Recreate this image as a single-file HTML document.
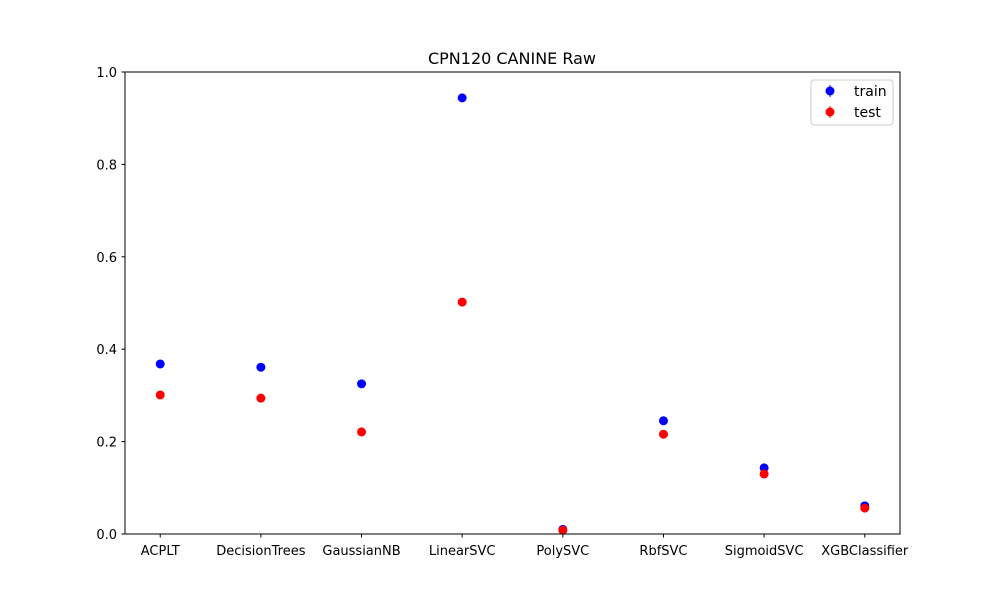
<!DOCTYPE html>
<html><head><meta charset="utf-8"><style>
body{margin:0;background:#fff;}
svg text{font-family:"DejaVu Sans","Liberation Sans",sans-serif;}
</style></head><body>
<svg id="chart" width="1000" height="600">
<rect width="1000" height="600" fill="#fff"/>
<text x="512" y="64" font-size="16" text-anchor="middle">CPN120 CANINE Raw</text>
<g id="axes"></g>
<g id="marks"></g>
<rect x="125" y="72" width="775" height="462" fill="none" stroke="#000" stroke-width="1"/>
<g>
<rect x="811" y="80" width="82" height="45" fill="#fff" stroke="#ccc" rx="3"/>
<g>
<line x1="830" y1="85" x2="830" y2="97" stroke="blue"/>
<circle cx="830" cy="91" r="4.5" fill="blue"/>
<text x="854" y="96" font-size="14">train</text></g>
<g>
<line x1="830" y1="106" x2="830" y2="118" stroke="red"/>
<circle cx="830" cy="112" r="4.5" fill="red"/>
<text x="854" y="117" font-size="14">test</text></g>
</g>
</svg>
<script>
const categories=["ACPLT","DecisionTrees","GaussianNB","LinearSVC","PolySVC","RbfSVC","SigmoidSVC","XGBClassifier"];
const trainValues=[0.368,0.361,0.325,0.944,0.010,0.245,0.143,0.061];
const testValues=[0.301,0.294,0.221,0.502,0.008,0.216,0.130,0.056];
const yTicks=[0,0.2,0.4,0.6,0.8,1.0];
const yTickLabels=["0.0","0.2","0.4","0.6","0.8","1.0"];
const NS="http://www.w3.org/2000/svg";
function xs(i){return 125+(i+0.35)/7.7*775;}
function ys(v){return 534-v*462;}
const axes=document.getElementById('axes'),marks=document.getElementById('marks');
function mk(t,a,p){const e=document.createElementNS(NS,t);for(const k in a)e.setAttribute(k,a[k]);p.appendChild(e);return e;}
yTicks.forEach((v,i)=>{
 const l=mk('line',{x1:121.5,x2:125,y1:ys(v),y2:ys(v),stroke:'#000'},axes);
 
 
 const t=mk('text',{x:117,y:ys(v)+5,'font-size':13,'text-anchor':'end'},axes);
 t.textContent=yTickLabels[i];
 
 
});
categories.forEach((c,i)=>{
 const l=mk('line',{x1:xs(i),x2:xs(i),y1:534,y2:537.5,stroke:'#000'},axes);
 
 
 const t=mk('text',{x:xs(i),y:555,'font-size':13,'text-anchor':'middle'},axes);
 t.textContent=c;
 
 
});
categories.forEach((c,i)=>{
 const p=mk('circle',{cx:xs(i),cy:ys(trainValues[i]),r:4.5,fill:'blue'},marks);
 
 
});
categories.forEach((c,i)=>{
 const p=mk('circle',{cx:xs(i),cy:ys(testValues[i]),r:4.5,fill:'red'},marks);
 
 
});
</script>
</body></html>
